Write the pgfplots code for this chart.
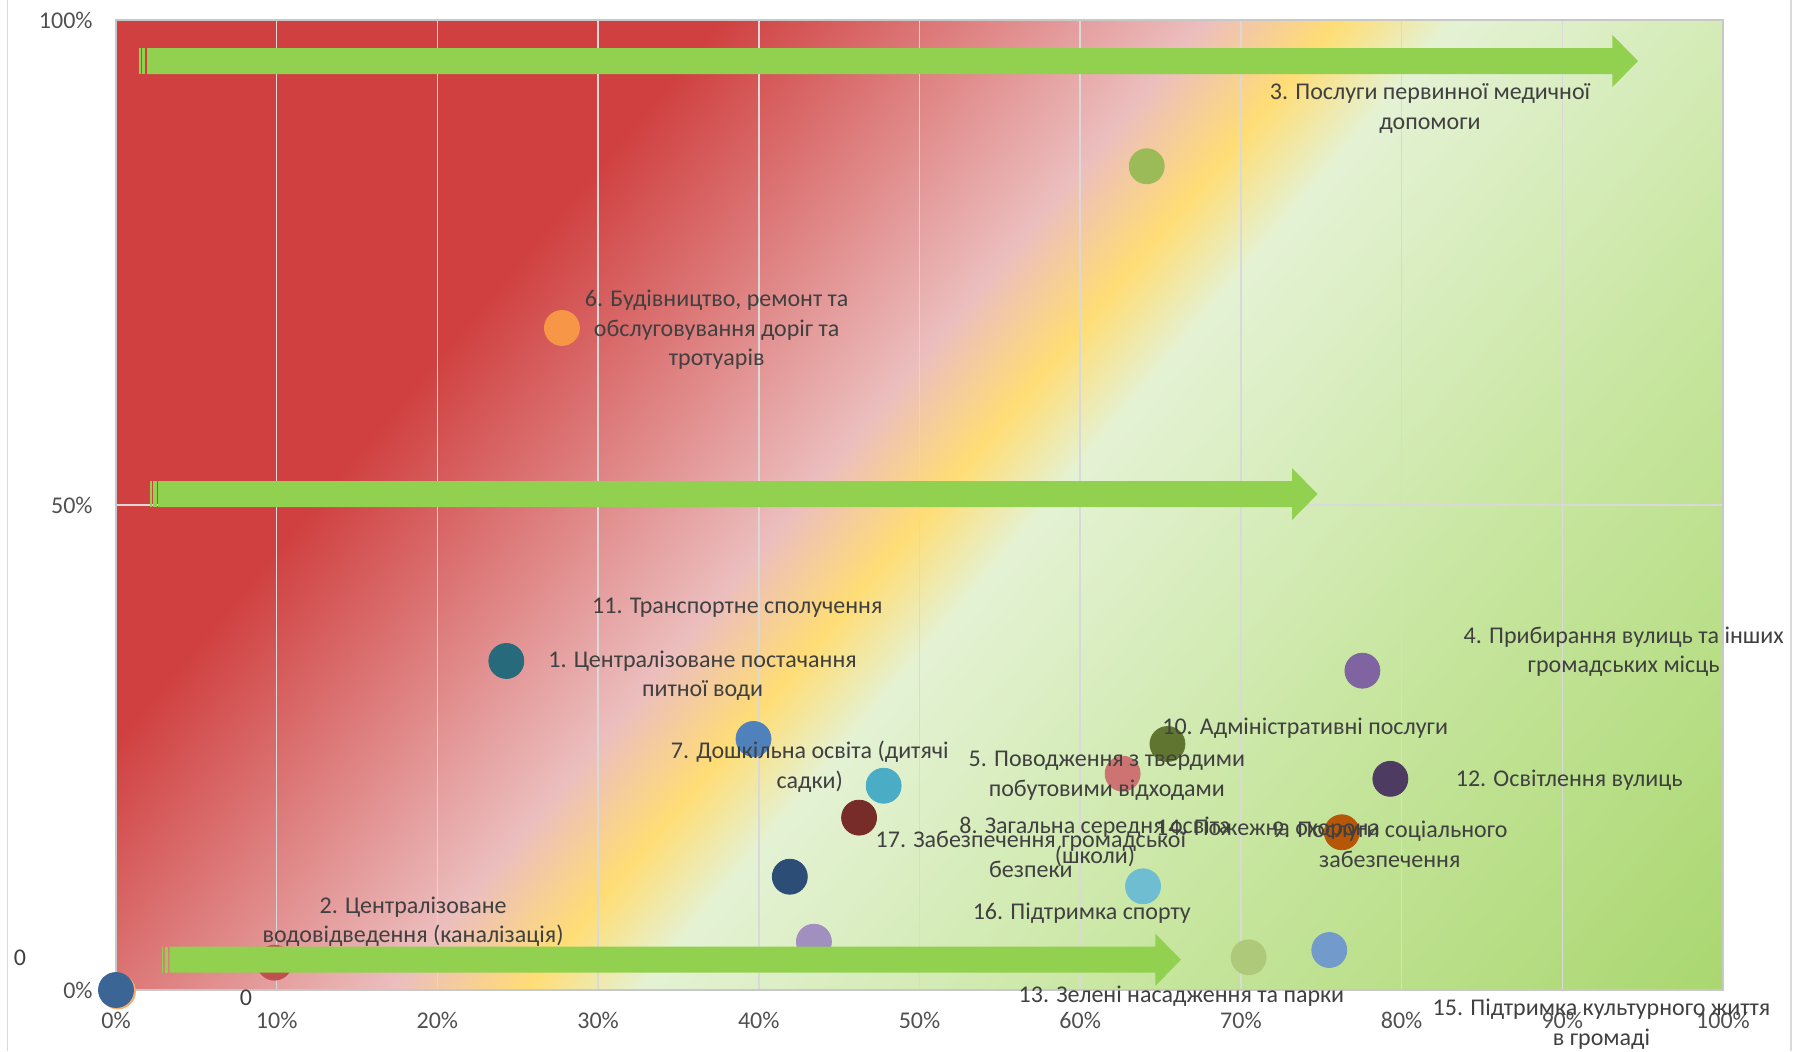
\documentclass[border=0pt]{standalone}
\usepackage{fontspec}
\setmainfont{Carlito}
\usepackage{pgfplots}
\pgfplotsset{compat=1.18}
\definecolor{cR}{RGB}{208,64,64}
\definecolor{cP}{RGB}{236,190,190}
\definecolor{cY}{RGB}{255,221,117}
\definecolor{cW}{RGB}{228,242,212}
\definecolor{cG1}{RGB}{200,230,160}
\definecolor{cG2}{RGB}{170,215,112}
\definecolor{cGrid}{RGB}{217,217,217}
\definecolor{cAxis}{RGB}{200,200,200}
\definecolor{cTxt}{RGB}{64,64,64}
\definecolor{cTick}{RGB}{80,80,80}
\definecolor{cArrow}{RGB}{146,208,80}
\definecolor{s1}{HTML}{4F81BD}
\definecolor{s2}{HTML}{C0504D}
\definecolor{s3}{HTML}{9BBB59}
\definecolor{s4}{HTML}{8064A2}
\definecolor{s5}{HTML}{4BACC6}
\definecolor{s6}{HTML}{F79646}
\definecolor{s7}{HTML}{2C4D75}
\definecolor{s8}{HTML}{772C2A}
\definecolor{s9}{HTML}{5F7530}
\definecolor{s10}{HTML}{4D3B62}
\definecolor{s11}{HTML}{276A7C}
\definecolor{s12}{HTML}{B65708}
\definecolor{s13}{HTML}{729ACA}
\definecolor{s14}{HTML}{CD7371}
\definecolor{s15}{HTML}{AFC97A}
\definecolor{s16}{HTML}{A18FBF}
\definecolor{s17}{HTML}{6FBDD1}
\definecolor{s18}{HTML}{F9AB6B}
\definecolor{s19}{HTML}{3A6595}
\pgfdeclarehorizontalshading{bgshade}{100bp}{color(0bp)=(cR); color(25bp)=(cR); color(37.5bp)=(cR); color(47.5bp)=(cP); color(50.25bp)=(cY); color(52.65bp)=(cW); color(62.5bp)=(cG1); color(75bp)=(cG2); color(100bp)=(cG2)}
\newcommand\lf{\fontsize{12pt}{14.75pt}\selectfont}
\pgfplotsset{pt/.style={only marks, mark=*, mark size=8.75pt, color=#1, mark options={draw=none, fill=#1}}}
\begin{document}
\begin{tikzpicture}
\path[use as bounding box] (-58pt,-30.5pt) rectangle (841pt,495pt);
\draw[cGrid, line width=0.8pt] (-54.3pt,-30.5pt) -- (-54.3pt,495pt);
\draw[cGrid, line width=0.8pt] (837.5pt,-30.5pt) -- (837.5pt,495pt);
\begin{scope}
\clip (0,0) rectangle (803.5pt,485pt);
\begin{scope}[transform canvas={rotate=-40}]
\shade[shading=bgshade] (-311.9pt,-20pt) rectangle (615.5pt,900pt);
\end{scope}
\end{scope}
\begin{axis}[at={(0,0)}, anchor=south west, scale only axis,
  width=803.5pt, height=485pt,
  xmin=0, xmax=100, ymin=0, ymax=100, clip=false,
  grid=major, major grid style={cGrid, line width=0.75pt},
  axis line style={cAxis, line width=0.75pt},
  major tick length=0pt,
  xtick={0,10,...,100},
  xticklabels={0\%,10\%,20\%,30\%,40\%,50\%,60\%,70\%,80\%,90\%,100\%},
  ytick={0,50,100},
  yticklabels={0\%,50\%,100\%},
  xticklabel style={anchor=center, yshift=-15pt, inner sep=0pt, text=cTick, font=\lf},
  yticklabel style={anchor=east, xshift=-11.5pt, inner sep=0pt, text=cTick, font=\lf},
]
\addplot[pt=s1] coordinates {(39.67,25.88)};
\addplot[pt=s2] coordinates {(9.86,2.82)};
\addplot[pt=s3] coordinates {(64.14,84.92)};
\addplot[pt=s4] coordinates {(77.56,32.92)};
\addplot[pt=s5] coordinates {(47.77,21.06)};
\addplot[pt=s6] coordinates {(27.75,68.25)};
\addplot[pt=s7] coordinates {(41.93,11.68)};
\addplot[pt=s8] coordinates {(46.24,17.77)};
\addplot[pt=s9] coordinates {(65.43,25.36)};
\addplot[pt=s10] coordinates {(79.30,21.77)};
\addplot[pt=s11] coordinates {(24.29,33.92)};
\addplot[pt=s12] coordinates {(76.28,16.26)};
\addplot[pt=s13] coordinates {(75.50,4.12)};
\addplot[pt=s14] coordinates {(62.64,22.30)};
\addplot[pt=s15] coordinates {(70.48,3.37)};
\addplot[pt=s16] coordinates {(43.43,4.98)};
\addplot[pt=s17] coordinates {(63.91,10.69)};
\addplot[pt=s18] coordinates {(0.12,-0.15)};
\addplot[pt=s19] coordinates {(0,0)};
\end{axis}
% overlay in data units (1 unit = 1 percent of the axis)
\begin{scope}[x=8.035pt, y=4.85pt]
% striped block arrows
\fill[cArrow] (1.43,94.43) rectangle (1.53,97.11);
\fill[cArrow] (1.632,94.43) rectangle (1.834,97.11);
\fill[cArrow] (1.934,94.43) -- (93.12,94.43) -- (93.12,93.09) -- (94.71,95.77) -- (93.12,98.45) -- (93.12,97.11) -- (1.934,97.11) -- cycle;
\fill[cArrow] (2.12,49.79) rectangle (2.22,52.47);
\fill[cArrow] (2.322,49.79) rectangle (2.524,52.47);
\fill[cArrow] (2.624,49.79) -- (73.18,49.79) -- (73.18,48.45) -- (74.77,51.13) -- (73.18,53.81) -- (73.18,52.47) -- (2.624,52.47) -- cycle;
\fill[cArrow] (2.84,1.78) rectangle (2.94,4.46);
\fill[cArrow] (3.042,1.78) rectangle (3.244,4.46);
\fill[cArrow] (3.344,1.78) -- (64.68,1.78) -- (64.68,0.44) -- (66.27,3.12) -- (64.68,5.80) -- (64.68,4.46) -- (3.344,4.46) -- cycle;
% labels
\begin{scope}[every node/.style={align=center, text=cTxt, font=\lf, inner sep=0pt}]
\node at (81.77,90.89) {3. Послуги первинної медичної\\допомоги};
\node at (37.38,68.07) {6. Будівництво, ремонт та\\обслуговування доріг та\\тротуарів};
\node at (38.66,39.41) {11. Транспортне сполучення};
\node at (36.50,32.42) {1. Централізоване постачання\\питної води};
\node at (93.82,34.88) {4. Прибирання вулиць та інших\\громадських місць};
\node at (74.0,26.98) {10. Адміністративні послуги};
\node at (43.17,23.02) {7. Дошкільна освіта (дитячі\\садки)};
\node at (61.66,22.08) {5. Поводження з твердими\\побутовими відходами};
\node at (90.43,21.65) {12. Освітлення вулиць};
\node at (60.92,15.29) {8. Загальна середня освіта\\(школи)};
\node at (56.93,14.0) {17. Забезпечення громадської\\безпеки};
\node at (71.69,16.49) {14. Пожежна охорона};
\node at (79.26,15.03) {9. Послуги соціального\\забезпечення};
\node at (60.1,7.9) {16. Підтримка спорту};
\node at (18.49,7.04) {2. Централізоване\\водовідведення (каналізація)};
\node at (66.3,-0.69) {13. Зелені насадження та парки};
\node at (92.44,-3.52) {15. Підтримка культурного життя\\в громаді};
\node at (-5.97,3.30) {0};
\node at (8.09,-0.82) {0};
\end{scope}
\end{scope}
\end{tikzpicture}
\end{document}
